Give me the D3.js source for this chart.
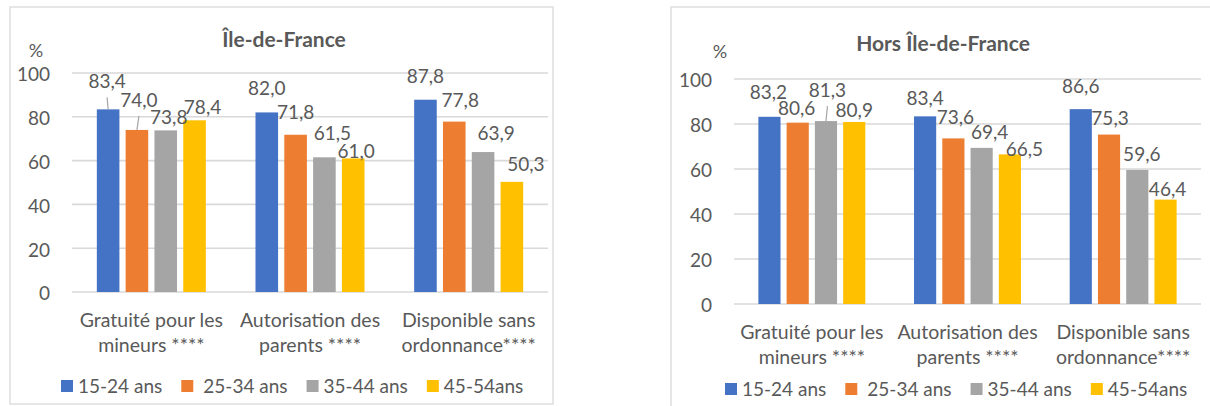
<!DOCTYPE html>
<html>
<head>
<meta charset="utf-8">
<script src="https://cdn.jsdelivr.net/npm/d3@7"></script>
<style>
  html, body { margin: 0; padding: 0; background: #fff; }
  svg { display: block; }
  text { font-family: Lato, "Noto Sans", sans-serif; fill: #595959; }
</style>
</head>
<body>
<svg id="chart" width="1210" height="406"></svg>
<script>
// ---------- DATA ----------
const categories = [
  ["Gratuité pour les", "mineurs ****"],
  ["Autorisation des", "parents ****"],
  ["Disponible sans", "ordonnance****"]
];
const series = ["15-24 ans", "25-34 ans", "35-44 ans", "45-54ans"];
// values per series (rows) across categories (columns)
const idfValues = [
  [83.4, 82.0, 87.8],
  [74.0, 71.8, 77.8],
  [73.8, 61.5, 63.9],
  [78.4, 61.0, 50.3]
];
const horsValues = [
  [83.2, 83.4, 86.6],
  [80.6, 73.6, 75.3],
  [81.3, 69.4, 59.6],
  [80.9, 66.5, 46.4]
];
const yTicks = [0, 20, 40, 60, 80, 100];
const titles = ["Île-de-France", "Hors Île-de-France"];
const unitLabel = "%";

// ---------- STYLE / LAYOUT ----------
const colors = ["#4472C4", "#ED7D31", "#A5A5A5", "#FFC000"];
const fmt = v => v.toFixed(1).replace(".", ",");

// manual label offsets (dx, dy of label centre relative to bar top centre)
const idfLabelOffsets = [
  [[-1, -28], [0, -24], [0, -24]],
  [[2, -30], [0, -23], [6, -21]],
  [[3, -13], [8, -24], [13, -18.5]],
  [[8, -13], [3, -7], [14, -18]]
];
const horsLabelOffsets = [
  [[-1, -25], [0, -18], [0, -22.5]],
  [[-1, -14], [2, -21], [1, -16]],
  [[1.5, -31], [8, -15.5], [4.5, -16]],
  [[0, -12], [14.5, -5], [2, -10]]
];
const idfLeaders = [[0, 0], [1, 0]];
const horsLeaders = [[2, 0]];

const panels = [
  { values: idfValues, offsets: idfLabelOffsets, leaders: idfLeaders, title: titles[0],
    box: { x: 10, y: 7, w: 543, h: 397 },
    plot: { left: 72, right: 548, y0: 292, y100: 73 },
    titleX: 284, titleY: 39, pctX: 36, pctY: 51, legendX: 61, legendY: 386 },
  { values: horsValues, offsets: horsLabelOffsets, leaders: horsLeaders, title: titles[1],
    box: { x: 671, y: 7, w: 545, h: 400 },
    plot: { left: 734, right: 1201, y0: 304, y100: 79 },
    titleX: 943, titleY: 43, pctX: 720, pctY: 52, legendX: 725, legendY: 389 }
];

const svg = d3.select("#chart");
const FS = 19;

panels.forEach(p => {
  const g = svg.append("g");
  g.append("rect")
    .attr("x", p.box.x).attr("y", p.box.y)
    .attr("width", p.box.w).attr("height", p.box.h)
    .attr("fill", "#fff").attr("stroke", "#d9d9d9").attr("stroke-width", 1.3);

  const y = d3.scaleLinear().domain([0, 100]).range([p.plot.y0, p.plot.y100]);
  const x0 = d3.scaleBand().domain(d3.range(categories.length))
    .range([p.plot.left, p.plot.right]).padding(0);
  const groupW = x0.bandwidth() * 0.687;
  const x1 = d3.scaleBand().domain(d3.range(series.length))
    .range([0, groupW]).paddingInner(0.216).paddingOuter(0);
  const gx = c => x0(c) + (x0.bandwidth() - groupW) / 2;

  // gridlines
  g.append("g").selectAll("line").data(yTicks).join("line")
    .attr("x1", p.plot.left).attr("x2", p.plot.right)
    .attr("y1", d => y(d)).attr("y2", d => y(d))
    .attr("stroke", "#d9d9d9").attr("stroke-width", 1.6);

  // y axis labels
  const yAxis = d3.axisLeft(y).tickValues(yTicks).tickSize(0).tickPadding(22);
  const ya = g.append("g").attr("transform", `translate(${p.plot.left},0)`).call(yAxis);
  ya.select(".domain").remove();
  ya.selectAll("text").attr("font-size", FS).attr("fill", "#595959")
    .style("font-family", "Lato, 'Noto Sans', sans-serif").attr("dy", "0.42em");

  // title & unit
  g.append("text").attr("x", p.titleX).attr("y", p.titleY).attr("dy", "0.36em")
    .attr("text-anchor", "middle").attr("font-weight", "bold").attr("font-size", 21)
    .text(p.title);
  g.append("text").attr("x", p.pctX).attr("y", p.pctY).attr("dy", "0.36em")
    .attr("text-anchor", "middle").attr("font-size", 18).text(unitLabel);

  // bars
  series.forEach((s, si) => {
    g.append("g").selectAll("rect").data(p.values[si]).join("rect")
      .attr("x", (d, ci) => gx(ci) + x1(si))
      .attr("width", x1.bandwidth())
      .attr("y", d => y(d))
      .attr("height", d => y(0) - y(d))
      .attr("fill", colors[si]);
  });

  // leader lines
  p.leaders.forEach(([si, ci]) => {
    const v = p.values[si][ci];
    const bx = gx(ci) + x1(si) + x1.bandwidth() / 2;
    const [dx, dy] = p.offsets[si][ci];
    g.append("line")
      .attr("x1", bx + dx).attr("y1", y(v) + dy + 16)
      .attr("x2", bx).attr("y2", y(v))
      .attr("stroke", "#a6a6a6").attr("stroke-width", 1.2);
  });

  // data labels
  series.forEach((s, si) => {
    g.append("g").selectAll("text").data(p.values[si]).join("text")
      .attr("x", (d, ci) => gx(ci) + x1(si) + x1.bandwidth() / 2 + p.offsets[si][ci][0])
      .attr("y", (d, ci) => y(d) + p.offsets[si][ci][1])
      .attr("dy", "0.36em")
      .attr("text-anchor", "middle").attr("font-size", FS)
      .text(d => fmt(d));
  });

  // category labels
  const cg = g.append("g");
  categories.forEach((lines, ci) => {
    lines.forEach((ln, li) => {
      cg.append("text")
        .attr("x", x0(ci) + x0.bandwidth() / 2)
        .attr("y", p.plot.y0 + 35 + li * 25)
        .attr("text-anchor", "middle").attr("font-size", 19.5)
        .text(ln);
    });
  });

  // legend
  let lx = p.legendX;
  const lg = g.append("g");
  series.forEach((s, si) => {
    lg.append("rect").attr("x", lx).attr("y", p.legendY - 6)
      .attr("width", 12).attr("height", 12).attr("fill", colors[si]);
    const extra = si === 1 ? 5 : 0;
    const t = lg.append("text").attr("x", lx + 17 + extra).attr("y", p.legendY)
      .attr("dy", "0.36em").attr("font-size", FS).text(s);
    const w = t.node().getComputedTextLength();
    lx += 17 + extra + w + 19;
  });
});
</script>
</body>
</html>
